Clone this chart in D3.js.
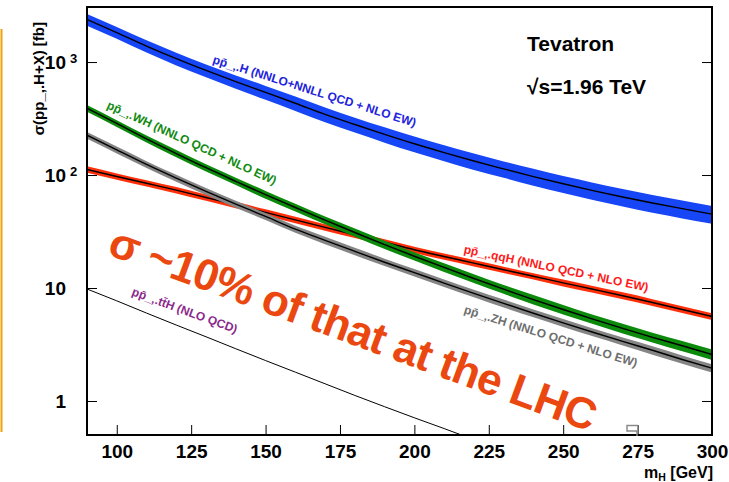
<!DOCTYPE html>
<html>
<head>
<meta charset="utf-8">
<script src="https://cdn.jsdelivr.net/npm/d3@7"></script>
<style>
  html, body { margin: 0; padding: 0; background: #fff; }
  svg { display: block; font-family: "Liberation Sans", Arial, Helvetica, sans-serif; }
</style>
</head>
<body>
<svg id="chart" width="729" height="482"></svg>
<script>
// Higgs boson mass points [GeV]
const massPoints = [90, 100, 110, 120, 130, 140, 150, 160, 170, 180, 190, 200,
                    210, 220, 230, 240, 250, 260, 270, 280, 290, 300];

// Cross sections at the Tevatron, sqrt(s) = 1.96 TeV [fb]
const ggH  = [2380, 1822, 1385, 1072, 843, 671, 539, 432, 344, 280, 229, 189,
              158, 133, 113.3, 96.9, 83.7, 72.8, 63.9, 56.5, 50.4, 45.1];
const vbfH = [112, 97, 84.5, 73.5, 63.2, 54.4, 46.7, 40.1, 34.4, 29.6, 25.4, 21.8,
              19.0, 16.6, 14.5, 12.7, 11.1, 9.75, 8.55, 7.45, 6.45, 5.6];
const wH   = [390, 286, 209, 155, 116, 88, 67, 51.6, 39.8, 31.0, 24.2, 19.1,
              15.2, 12.14, 9.76, 7.90, 6.45, 5.30, 4.39, 3.66, 3.08, 2.58];
const zH   = [225, 167, 124, 93.8, 71.6, 55.3, 43.0, 33.2, 26.4, 21.1, 16.9, 13.7,
              11.06, 8.97, 7.31, 5.98, 4.92, 4.06, 3.37, 2.81, 2.33, 1.95];
const ttH  = [9.8, 7.7, 6.0, 4.7, 3.7, 2.9, 2.28, 1.8, 1.42, 1.12, 0.89, 0.71,
              0.57, 0.455];

// Theory uncertainty (half-width of each band) [%]
const ggHErr  = [12, 12, 12.5, 13, 13, 13.5, 14, 14.5, 15, 15, 15.5, 16,
                 16, 16.5, 16.5, 17, 17, 17.5, 17.5, 18, 18, 18];
const vbfHErr = [6.5, 6.5, 6.5, 6.5, 6.5, 6.5, 6.5, 6.5, 6.5, 6.5, 6.5, 6.5,
                 6.5, 6.5, 6.5, 6.5, 7, 7, 7, 7, 7, 7];
const wHErr   = [7, 7, 7, 7.5, 7.5, 7.5, 8, 8, 8, 8.5, 8.5, 8.5,
                 9, 9, 9, 9.5, 9.5, 9.5, 10, 10, 10.5, 10.5];
const zHErr   = [7, 7, 7, 7, 7, 7, 7, 7, 7.5, 7.5, 7.5, 7.5,
                 7.5, 7.5, 8, 8, 8, 8, 8, 8.5, 8.5, 8.5];

// Axis ticks
const xMajorTicks = [100, 125, 150, 175, 200, 225, 250, 275, 300];
const yMajorTicks = [1, 10, 100, 1000];
const yTickLabels = [["1", ""], ["10", ""], ["10", "2"], ["10", "3"]];

const W = 729, H = 482;
const plot = { left: 87, right: 712, top: 7, bottom: 435 };

const svg = d3.select("#chart");
svg.append("rect").attr("width", W).attr("height", H).attr("fill", "#fff");

const x = d3.scaleLinear().domain([90, 300]).range([plot.left, plot.right]);
const y = d3.scaleLog().domain([0.5, 3070]).range([plot.bottom, plot.top]);

svg.append("clipPath").attr("id", "plotClip")
  .append("rect")
  .attr("x", plot.left).attr("y", plot.top)
  .attr("width", plot.right - plot.left).attr("height", plot.bottom - plot.top);

const g = svg.append("g").attr("clip-path", "url(#plotClip)");

// Bands with central lines
const processes = [
  { vals: ggH,  err: ggHErr,  fill: "#1746f6" },
  { vals: vbfH, err: vbfHErr, fill: "#ff2f0a" },
  { vals: zH,   err: zHErr,   fill: "#858585" },
  { vals: wH,   err: wHErr,   fill: "#0b8a0b" }
];

const curve = d3.curveMonotoneX;
const band = d3.area()
  .x(d => x(d.m))
  .y0(d => y(d.v * (1 - d.e / 100)))
  .y1(d => y(d.v * (1 + d.e / 100)))
  .curve(curve);
const line = d3.line().x(d => x(d.m)).y(d => y(d.v)).curve(curve);

processes.forEach(p => {
  const pts = massPoints.map((m, i) => ({ m, v: p.vals[i], e: p.err[i] }));
  g.append("path").attr("d", band(pts)).attr("fill", p.fill).attr("stroke", "none");
  g.append("path").attr("d", line(pts)).attr("fill", "none")
    .attr("stroke", "#000").attr("stroke-width", 1.4);
});

// ttH: thin line only
const ttPts = ttH.map((v, i) => ({ m: massPoints[i], v }));
g.append("path").attr("d", line(ttPts)).attr("fill", "none")
  .attr("stroke", "#000").attr("stroke-width", 1);

// Axes: ticks point into the frame
const axX = svg.append("g").attr("transform", `translate(0,${plot.bottom})`);
axX.call(d3.axisBottom(x).tickValues(d3.range(90, 301, 5)).tickSize(-5).tickFormat(""));
axX.call(d3.axisBottom(x).tickValues(xMajorTicks).tickSize(-10).tickPadding(10)
  .tickFormat(d3.format("d")));
axX.selectAll(".domain").remove();
axX.selectAll("text").attr("font-size", 19).attr("font-weight", "bold")
  .attr("fill", "#000").attr("font-family", "Liberation Sans, Arial, sans-serif");

const yMinor = [];
[0.1, 1, 10, 100, 1000].forEach(dec => {
  for (let k = 2; k <= 9; k++) {
    const v = k * dec;
    if (v >= 0.5 && v <= 3070) yMinor.push(v);
  }
});

[[plot.left, d3.axisLeft], [plot.right, d3.axisRight]].forEach(([px, axisFn]) => {
  const ax = svg.append("g").attr("transform", `translate(${px},0)`);
  ax.call(axisFn(y).tickValues(yMinor).tickSize(-6).tickFormat(""));
  ax.call(axisFn(y).tickValues(yMajorTicks).tickSize(-10).tickFormat(""));
  ax.selectAll(".domain").remove();
});
svg.selectAll(".tick line").attr("stroke", "#000").attr("stroke-width", 1);

// Y tick labels: 1, 10, 10^2, 10^3
yMajorTicks.forEach((v, i) => {
  const [base, sup] = yTickLabels[i];
  svg.append("text")
    .attr("x", 66).attr("y", y(v)).attr("dy", "0.36em")
    .attr("text-anchor", "end")
    .attr("font-size", 19).attr("font-weight", "bold").attr("fill", "#000")
    .text(base);
  if (sup) {
    svg.append("text")
      .attr("x", 70).attr("y", y(v) + 1)
      .attr("font-size", 13).attr("font-weight", "bold").attr("fill", "#000")
      .text(sup);
  }
});

// Frame
svg.append("rect")
  .attr("x", plot.left).attr("y", plot.top)
  .attr("width", plot.right - plot.left).attr("height", plot.bottom - plot.top)
  .attr("fill", "none").attr("stroke", "#000").attr("stroke-width", 2);

// Axis titles
svg.append("text")
  .attr("transform", `translate(44,22) rotate(-90)`)
  .attr("text-anchor", "end")
  .attr("font-size", 15).attr("font-weight", "bold").attr("fill", "#000")
  .text("σ(pp_‚.H+X) [fb]");

const xt = svg.append("text")
  .attr("x", 713).attr("y", 478)
  .attr("text-anchor", "end")
  .attr("font-size", 16).attr("font-weight", "bold").attr("fill", "#000");
xt.append("tspan").text("m");
xt.append("tspan").attr("font-size", 10.5).attr("dy", 3).text("H");
xt.append("tspan").attr("dy", -3).text(" [GeV]");

// Curve labels, anchored in data coordinates and rotated along the curves
const curveLabels = [
  { m: 132,   v: 980,  angle: 17.5, color: "#2222dd", text: "pp̄_‚.H (NNLO+NNLL QCD + NLO EW)" },
  { m: 96.4,  v: 392,  angle: 24.6, color: "#118a11", text: "pp̄_‚.WH (NNLO QCD + NLO EW)" },
  { m: 216.4, v: 20.4, angle: 11.8, color: "#ff1a1a", text: "pp̄_‚.qqH (NNLO QCD + NLO EW)" },
  { m: 216.4, v: 6.0,  angle: 17.4, color: "#6e6e6e", text: "pp̄_‚.ZH (NNLO QCD + NLO EW)" },
  { m: 104.8, v: 8.67, angle: 20.2, color: "#8b2a8b", text: "pp̄_‚.tt̄H (NLO QCD)" }
];
curveLabels.forEach(l => {
  svg.append("text")
    .attr("transform", `translate(${x(l.m)},${y(l.v)}) rotate(${l.angle})`)
    .attr("font-size", 12).attr("font-weight", "bold").attr("fill", l.color)
    .text(l.text);
});

// Collider label
svg.append("text").attr("x", 527).attr("y", 51)
  .attr("font-size", 21).attr("font-weight", "bold").attr("fill", "#000")
  .text("Tevatron");
svg.append("text").attr("x", 527).attr("y", 94)
  .attr("font-size", 21).attr("font-weight", "bold").attr("fill", "#000")
  .text("√s=1.96 TeV");

// Highlight statement
svg.append("text")
  .attr("transform", `translate(106,254) rotate(20.2)`)
  .attr("font-size", 44).attr("font-weight", "bold").attr("fill", "#ea4810")
  .attr("letter-spacing", -0.8)
  .text("σ ~10% of that at the LHC");

// Small grey marker by the 275 tick
svg.append("path")
  .attr("d", "M638,425.5 H627 V431 H637 V436")
  .attr("fill", "none").attr("stroke", "#8c8c8c").attr("stroke-width", 1.5);

// Orange rule at the left edge
svg.append("line")
  .attr("x1", 1.5).attr("x2", 1.5).attr("y1", 29).attr("y2", 432)
  .attr("stroke", "#f2a20c").attr("stroke-width", 2);
</script>
</body>
</html>
